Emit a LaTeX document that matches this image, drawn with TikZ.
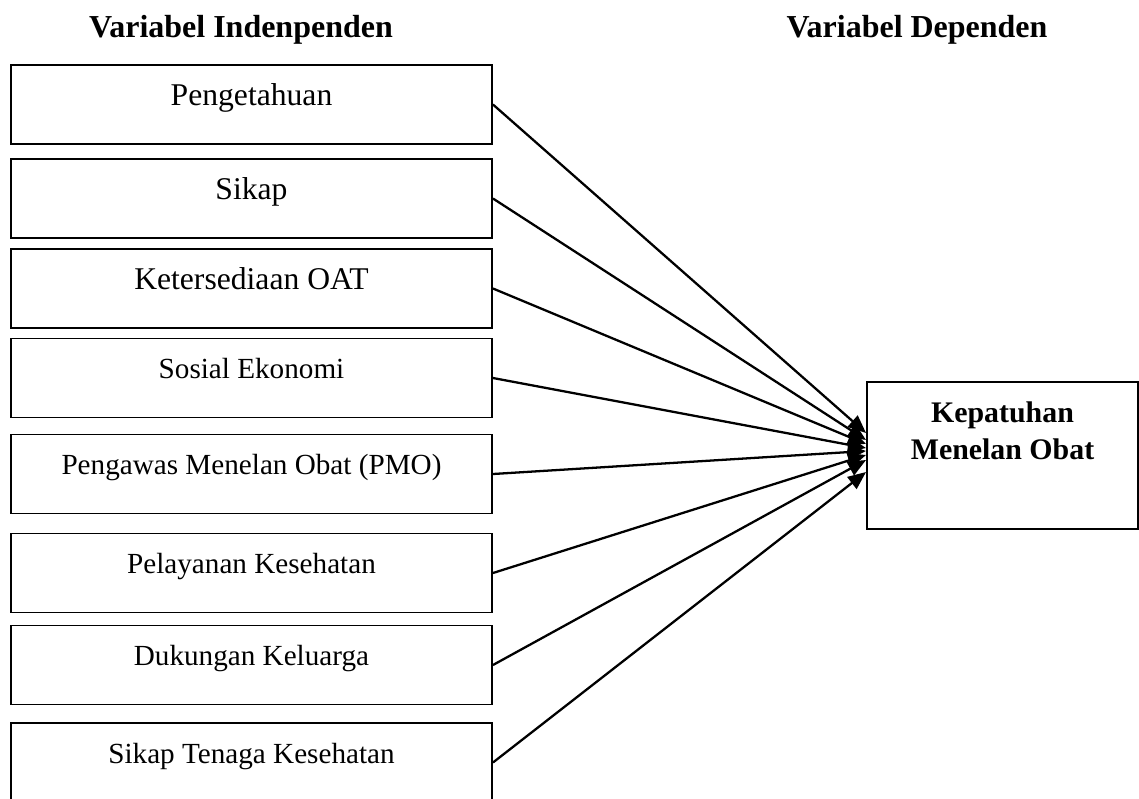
\documentclass[tikz,border=0pt]{standalone}
\usepackage{fontspec}
\setmainfont{Liberation Serif}
\usepackage{tikz}
\usetikzlibrary{arrows.meta}

\begin{document}
\begin{tikzpicture}[
  every node/.style={font=\fontsize{16.6}{21}\selectfont, align=center},
  head/.style={font=\fontsize{18.2}{22}\selectfont\bfseries, anchor=base},
  var/.style={draw, line width=1.1pt, minimum width=9.62cm, inner xsep=2pt,
              inner ysep=0pt, text height=0.8cm, text depth=0.78cm},
  big/.style={font=\fontsize{18}{22}\selectfont},
  dep/.style={draw, line width=1.1pt, minimum width=5.42cm, inner sep=0pt,
              text height=1.54cm, text depth=1.40cm,
              font=\fontsize{17}{21}\selectfont\bfseries},
  arr/.style={-{Triangle[length=3.6mm, width=3mm]}, line width=1.3pt},
]
  \clip (0, 0) rectangle (22.78, -15.96);

  \node[head] (hind) at (4.82, -0.74) {Variabel Indenpenden};
  \node[head] (hdep) at (18.34, -0.74) {Variabel Dependen};

  \node[var, big] (tahu) at (5.03, -2.09) {Pengetahuan};
  \node[var, big] (sikap) at (5.03, -3.97) {Sikap};
  \node[var, big] (oat) at (5.03, -5.77) {Ketersediaan OAT};
  \node[var] (sosek) at (5.03, -7.56) {Sosial Ekonomi};
  \node[var] (pmo) at (5.03, -9.48) {Pengawas Menelan Obat (PMO)};
  \node[var] (yankes) at (5.03, -11.46) {Pelayanan Kesehatan};
  \node[var] (keluarga) at (5.03, -13.30) {Dukungan Keluarga};
  \node[var] (nakes) at (5.03, -15.25) {Sikap Tenaga Kesehatan};

  \node[dep] (patuh) at (20.05, -9.11) {Kepatuhan\\Menelan Obat};

  \foreach \v/\dy in {tahu/0.45, sikap/0.31, oat/0.23, sosek/0.15,
                      pmo/0.09, yankes/0.01, keluarga/-0.09, nakes/-0.33}
    \draw[arr] (\v.east) -- ([yshift=\dy cm]patuh.west);
\end{tikzpicture}
\end{document}
